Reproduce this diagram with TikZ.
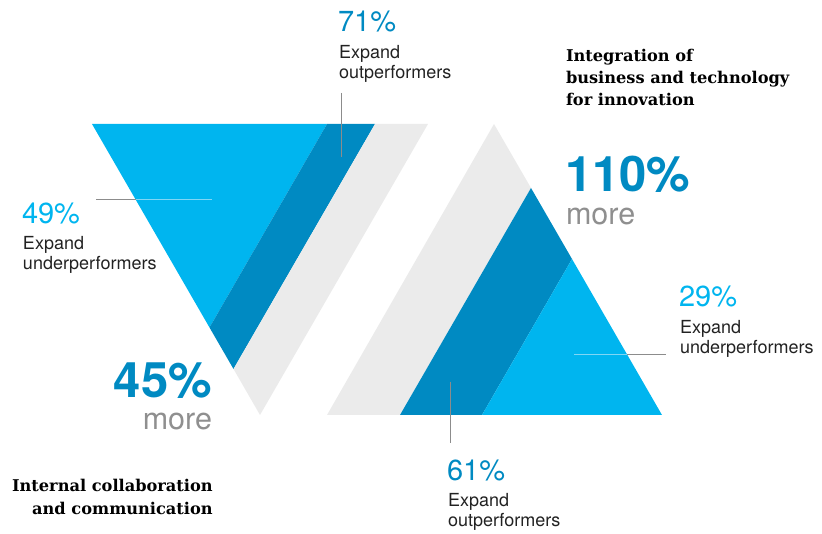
\documentclass[tikz,border=0pt]{standalone}
\usepackage{fontspec}
\setmainfont{TeX Gyre Heros}
\newfontfamily\slabfont{DejaVu Serif}
\definecolor{lightblue}{HTML}{00B5EF}
\definecolor{darkblue}{HTML}{008AC2}
\definecolor{bandgrey}{HTML}{EBEBEB}
\definecolor{moregrey}{HTML}{8F8F8F}
\definecolor{leadgrey}{HTML}{8C8C8C}
\definecolor{leadlight}{HTML}{80D6F5}
\definecolor{labeltext}{HTML}{222222}
\tikzset{
  txt/.style={inner sep=0pt, outer sep=0pt},
  pctlight/.style={txt, text=lightblue, font=\fontsize{29}{32}\selectfont},
  pctdark/.style={txt, text=darkblue, font=\fontsize{29}{32}\selectfont},
  labelline/.style={txt, text=labeltext, font=\fontsize{18}{20}\selectfont},
  bignum/.style={txt, text=darkblue, text depth=0pt, font=\fontsize{49}{54}\selectfont\bfseries},
  moretxt/.style={txt, text=moregrey, text height=16pt, text depth=0pt, font=\fontsize{30.5}{34}\selectfont},
  title/.style={txt, text=black, font=\fontsize{16.2}{20}\slabfont\bfseries},
  leader/.style={draw=leadgrey, line width=1pt},
  leaderin/.style={draw=leadlight, line width=1pt}
}
\begin{document}
\begin{tikzpicture}[x=1pt,y=-1pt]
\useasboundingbox (0,0) rectangle (822,534);
% left inverted triangle
\fill[lightblue] (92,124) -- (327,124) -- (209.5,327.5) -- cycle;
\fill[darkblue] (327,124) -- (375,124) -- (233.5,369) -- (209.5,327.5) -- cycle;
\fill[bandgrey] (375,124) -- (428,124) -- (260,415) -- (233.5,369) -- cycle;
% right triangle
\fill[bandgrey] (494,124) -- (531,188) -- (400,415) -- (327,415) -- cycle;
\fill[darkblue] (531,188) -- (572,259) -- (482,415) -- (400,415) -- cycle;
\fill[lightblue] (572,259) -- (662,415) -- (482,415) -- cycle;

% leader coordinates
\coordinate (a71) at (341.7,93);
\coordinate (b71) at (341.7,156.7);
\coordinate (a49) at (96,200);
\coordinate (m49) at (135.9,200);
\coordinate (b49) at (211.7,200);
\coordinate (a29) at (574,355);
\coordinate (m29) at (627.3,355);
\coordinate (b29) at (665.7,355);
\coordinate (a61) at (450,381.7);
\coordinate (b61) at (450,443.3);
\draw[leader] (a71) -- (b71);
\draw[leader] (a49) -- (m49);
\draw[leaderin] (m49) -- (b49);
\draw[leaderin] (a29) -- (m29);
\draw[leader] (m29) -- (b29);
\draw[leader] (a61) -- (b61);

% 71%
\node[pctdark, anchor=base west] (p71) at (338,31.7) {71\%};
\node[labelline, anchor=base west] (e71) at (339,58.3) {Expand};
\node[labelline, anchor=base west] (o71) at (339,78.3) {outperformers};
% 49%
\node[pctlight, anchor=base west] (p49) at (22,223.3) {49\%};
\node[labelline, anchor=base west] (e49) at (23,250) {Expand};
\node[labelline, anchor=base west] (u49) at (23,270) {underperformers};
% 29%
\node[pctlight, anchor=base west] (p29) at (679,306.7) {29\%};
\node[labelline, anchor=base west] (e29) at (680,333.3) {Expand};
\node[labelline, anchor=base west] (u29) at (680,353.3) {underperformers};
% 61%
\node[pctdark, anchor=base west] (p61) at (447,480) {61\%};
\node[labelline, anchor=base west] (e61) at (448,506) {Expand};
\node[labelline, anchor=base west] (o61) at (448,526) {outperformers};
% 45% more
\node[bignum, anchor=base east] (n45) at (212,398) {45\%};
\node[moretxt, anchor=base east] (m45) at (212,430) {more};
% 110% more
\node[bignum, anchor=base west] (n110) at (565,192) {110\%};
\node[moretxt, anchor=base west] (m110) at (566,224.5) {more};
% titles
\node[title, anchor=base east] (t1a) at (212.7,491.7) {Internal collaboration};
\node[title, anchor=base east] (t1b) at (212.7,514.3) {and communication};
\node[title, anchor=base west] (t2a) at (566,61.7) {Integration of};
\node[title, anchor=base west] (t2b) at (566,84) {business and technology};
\node[title, anchor=base west] (t2c) at (566,106) {for innovation};
\end{tikzpicture}
\end{document}
